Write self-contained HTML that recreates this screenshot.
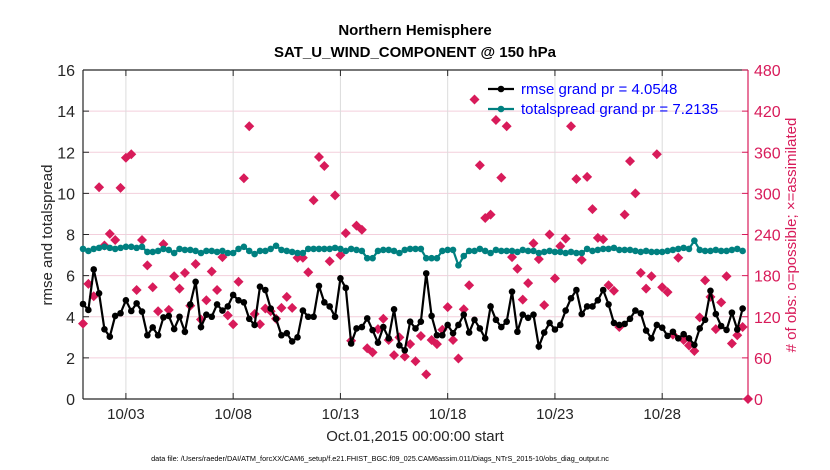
<!DOCTYPE html>
<html><head><meta charset="utf-8"><style>
body{margin:0;background:#fff;}
svg{display:block;font-family:"Liberation Sans",Arial,sans-serif;}
</style></head><body>
<svg id="chart" width="830" height="470" viewBox="0 0 830 470">
<text x="415" y="35" text-anchor="middle" font-size="15" font-weight="bold" fill="#000">Northern Hemisphere</text>
<text x="415" y="57" text-anchor="middle" font-size="15" font-weight="bold" fill="#000">SAT_U_WIND_COMPONENT @ 150 hPa</text>
<text transform="translate(52,235) rotate(-90)" text-anchor="middle" font-size="15" fill="#262626">rmse and totalspread</text>
<text transform="translate(796,235) rotate(-90)" text-anchor="middle" font-size="15" fill="#d81b5a"># of obs: o=possible; ×=assimilated</text>
<text x="415" y="441" text-anchor="middle" font-size="15" fill="#262626">Oct.01,2015 00:00:00 start</text>
<text x="380" y="461" text-anchor="middle" font-size="7.3" fill="#000">data file: /Users/raeder/DAI/ATM_forcXX/CAM6_setup/f.e21.FHIST_BGC.f09_025.CAM6assim.011/Diags_NTrS_2015-10/obs_diag_output.nc</text>
<g id="plot"></g>
</svg>
<script>
const rmse=[4.62,4.33,6.3,5.14,3.39,3.03,4.04,4.17,4.8,4.28,4.65,4.25,3.1,3.48,3.1,3.97,4.04,
3.4,4.0,3.27,4.6,5.7,3.5,4.1,4.0,4.6,4.3,4.5,5.06,4.8,4.7,3.9,3.6,5.46,5.3,4.4,3.9,3.1,3.2,2.8,3.0,4.3,4.0,
4.0,5.5,4.7,4.5,4.0,5.87,5.4,2.7,3.43,3.5,3.92,3.35,2.74,3.5,2.95,4.36,2.61,2.37,3.76,3.43,3.76,6.11,4.04,3.1,3.1,3.6,3.2,3.6,4.1,3.23,3.85,3.43,2.95,4.5,3.85,3.5,3.76,5.22,3.27,4.1,3.95,
4.1,2.55,3.23,3.7,3.38,3.6,4.3,4.9,5.3,4.13,4.5,4.5,4.8,5.3,4.6,3.7,3.6,3.65,3.9,4.3,4.17,3.33,2.95,3.6,3.47,3.07,3.27,2.95,3.15,2.95,2.63,3.43,3.85,5.26,4.13,3.55,3.36,4.2,3.38,4.4];
const spread=[7.3,7.2,7.3,7.35,7.4,7.35,7.3,7.35,7.4,7.4,7.35,7.4,7.15,7.15,7.2,7.3,7.25,7.1,7.3,7.25,
7.25,7.2,7.1,7.2,7.2,7.15,7.2,7.1,7.1,7.3,7.4,7.2,7.05,7.2,7.2,7.3,7.45,7.25,7.2,7.15,
7.1,7.1,7.3,7.3,7.3,7.3,7.3,7.35,7.3,7.2,7.3,7.25,7.2,6.85,6.85,7.2,7.25,7.25,7.2,7.1,
7.25,7.3,7.3,7.3,6.85,6.85,6.85,7.2,7.25,7.25,6.5,6.95,7.2,7.2,7.3,7.2,7.1,7.25,7.2,7.2,
7.2,7.15,7.25,7.2,7.2,7.1,7.15,7.2,7.15,7.15,7.1,7.15,7.1,7.1,7.3,7.2,7.25,7.3,7.3,7.35,
7.25,7.25,7.25,7.2,7.15,7.2,7.15,7.15,7.15,7.2,7.25,7.3,7.35,7.3,7.7,7.25,7.2,7.2,7.25,7.2,7.2,7.25,7.3,7.2];
const nobs=[110,168,150,309,224,241,232,308,352,357,159,232,195,163,128,226,130,179,161,184,136,197,116,144,186,159,207,122,109,171,322,398,124,109,132,128,117,133,149,133,206,206,185,290,353,340,201,297,210,242,
85,253,247,74,68,102,117,86,64,90,62,80,55,92,36,86,80,101,134,86,59,131,166,437,341,264,269,407,323,398,207,190,145,169,
227,204,137,240,176,223,234,398,321,203,324,277,235,233,166,158,105,269,347,300,184,161,179,357,163,156,94,206,86,78,70,119,173,149,102,141,179,81,93,105,0];
const xTickLabels=["10/03","10/08","10/13","10/18","10/23","10/28"];
const xTickDays=[2,7,12,17,22,27];
const yLeftTicks=[0,2,4,6,8,10,12,14,16];
const yRightTicks=[0,60,120,180,240,300,360,420,480];

const L=83,R=748,T=70,B=399,DAYS=31;
const xs=d=>L+(R-L)*d/DAYS;
const xi=i=>xs(i*0.25);
const yl=v=>B-(B-T)*v/16;
const yr=v=>B-(B-T)*v/480;
const NS="http://www.w3.org/2000/svg";
const g=document.getElementById('plot');
function mk(tag,attrs,parent){const e=document.createElementNS(NS,tag);for(const k in attrs)e.setAttribute(k,attrs[k]);(parent||g).appendChild(e);return e;}
const RED="#d81b5a";
yLeftTicks.forEach(v=>{if(v>0&&v<16){const e=mk('line',{x1:L,x2:R,y1:yl(v),y2:yl(v),stroke:"#f3cfdc","stroke-width":1});

}});
xTickDays.forEach(d=>{const e=mk('line',{x1:xs(d),x2:xs(d),y1:T,y2:B,stroke:"#dcdcdc","stroke-width":1});

});
let ax=mk('line',{x1:L,x2:R,y1:B,y2:B,stroke:"#262626","stroke-width":1.2});


ax=mk('line',{x1:L,x2:R,y1:T,y2:T,stroke:"#262626","stroke-width":1.2});


ax=mk('line',{x1:L,x2:L,y1:T,y2:B,stroke:"#262626","stroke-width":1.2});


ax=mk('line',{x1:R,x2:R,y1:T,y2:B,stroke:RED,"stroke-width":1.2});


xTickDays.forEach((d,k)=>{
 mk('line',{x1:xs(d),x2:xs(d),y1:B,y2:B-6,stroke:"#262626"});
 mk('line',{x1:xs(d),x2:xs(d),y1:T,y2:T+6,stroke:"#262626"});
 const t=mk('text',{x:xs(d),y:419,"text-anchor":"middle","font-size":15,fill:"#262626"});t.textContent=xTickLabels[k];
 
 
});
yLeftTicks.forEach(v=>{
 mk('line',{x1:L,x2:L+6,y1:yl(v),y2:yl(v),stroke:"#262626"});
 const t=mk('text',{x:L-8,y:yl(v)+6,"text-anchor":"end","font-size":16,fill:"#262626"});t.textContent=v;
 
 
});
yRightTicks.forEach(v=>{
 mk('line',{x1:R-6,x2:R,y1:yr(v),y2:yr(v),stroke:RED});
 const t=mk('text',{x:R+6,y:yr(v)+6,"text-anchor":"start","font-size":16,fill:RED});t.textContent=v;
 
 
});
nobs.forEach((v,i)=>{const x=xi(i),y=yr(v);
 const p=mk('polygon',{points:`${x},${y-5} ${x+5},${y} ${x},${y+5} ${x-5},${y}`,fill:RED});
 
 });
function series(vals,color,name){
 const pl=mk('polyline',{points:vals.map((v,i)=>xi(i)+","+yl(v)).join(" "),fill:"none",stroke:color,"stroke-width":2.2});
 
 
 vals.forEach((v,i)=>{const c=mk('circle',{cx:xi(i),cy:yl(v),r:3.3,fill:color});
 
 });
}
series(spread,"#008080","totalspread");
series(rmse,"#000000","rmse");
const lg=mk('g',{});


[["#000000","rmse grand pr = 4.0548",89],["#008080","totalspread grand pr = 7.2135",109]].forEach(([c,s,y])=>{
 mk('line',{x1:488,x2:514,y1:y,y2:y,stroke:c,"stroke-width":2.2},lg);
 mk('circle',{cx:501,cy:y,r:3.3,fill:c},lg);
 const t=mk('text',{x:521,y:y+5,"font-size":15,fill:"#0000ff"},lg);t.textContent=s;
 
 
});
</script>
</body></html>
